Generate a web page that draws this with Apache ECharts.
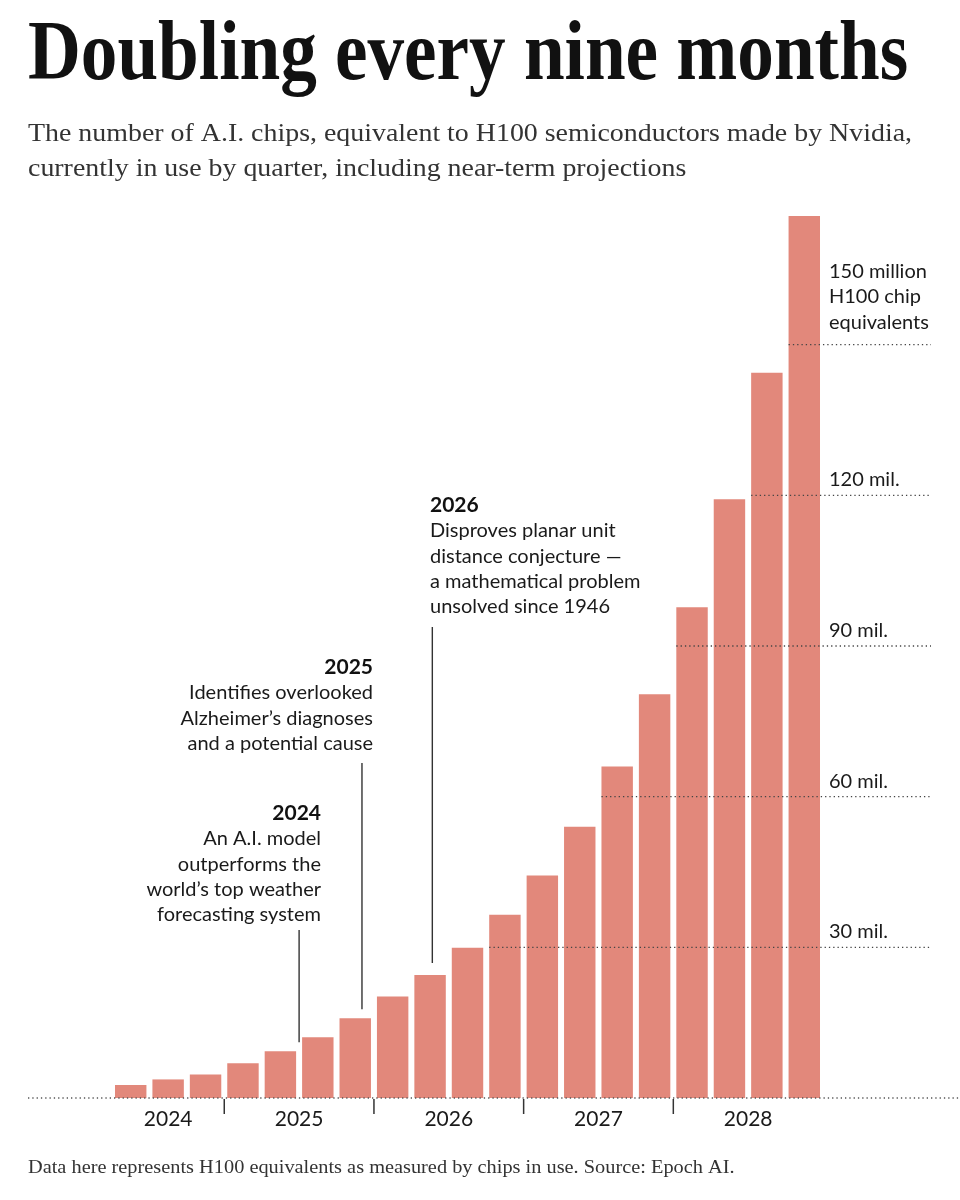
<!DOCTYPE html>
<html>
<head>
<meta charset="utf-8">
<script src="https://cdn.jsdelivr.net/npm/echarts@6/dist/echarts.min.js"></script>
<style>
  html, body { margin: 0; padding: 0; background: #fff; }
  #chart { width: 960px; height: 1200px; }
</style>
</head>
<body>
<div id="chart"></div>
<script>
// quarters shown, H100 equivalents in use (millions)
const quarters = [
  '2024 Q2', '2024 Q3', '2024 Q4',
  '2025 Q1', '2025 Q2', '2025 Q3', '2025 Q4',
  '2026 Q1', '2026 Q2', '2026 Q3', '2026 Q4',
  '2027 Q1', '2027 Q2', '2027 Q3', '2027 Q4',
  '2028 Q1', '2028 Q2', '2028 Q3', '2028 Q4',
]
const chips = [2.6, 3.7, 4.7, 6.9, 9.3, 12.1, 15.9, 20.2, 24.5, 29.9, 36.5, 44.3, 54.0, 66.0, 80.4, 97.7, 119.2, 144.4, 175.6]

const years = ['2024', '2025', '2026', '2027', '2028']
const gridValues = [30, 60, 90, 120, 150]
const gridLabels = ['30 mil.', '60 mil.', '90 mil.', '120 mil.', '150 million\nH100 chip\nequivalents']

const annoBar = [4, 6, 8]
const annoYear = ['2024', '2025', '2026']
const annoText = [
  'An A.I. model\noutperforms the\nworld\u2019s top weather\nforecasting system',
  'Identifies overlooked\nAlzheimer\u2019s diagnoses\nand a potential cause',
  'Disproves planar unit\ndistance conjecture \u2014\na mathematical problem\nunsolved since 1946',
]

// layout only
const SANS = 'Lato, "Open Sans", sans-serif'
const SERIF = '"Liberation Serif", serif'
const BAR_COLOR = '#e2887b'
const annoLayout = [
  { shift: 0.5, textX: 321, align: 'right', yearY: 813, lineTop: 930, gap: 9 },
  { shift: 0.18, textX: 373, align: 'right', yearY: 667, lineTop: 763, gap: 9 },
  { shift: 0.06, textX: 430, align: 'left', yearY: 505, lineTop: 627, gap: 12 },
]
const labelRise = [15.5, 15.5, 15.5, 15.5, 22.6]

const myChart = echarts.init(document.getElementById('chart'), null, { renderer: 'canvas' })

// first bar reaching each grid value -> where the dotted line starts
const gridStart = gridValues.map((v) => chips.findIndex((c) => c >= v))
// first / last quarter of each year
const yearSpan = years.map((y) => {
  const idx = quarters.map((q, i) => (q.startsWith(y) ? i : -1)).filter((i) => i >= 0)
  return [idx[0], idx[idx.length - 1]]
})

const option = {
  backgroundColor: '#fff',
  animation: false,
  grid: {
    left: 112,
    right: 137,
    top: 194,
    bottom: 102,
  },
  xAxis: {
    type: 'category',
    data: quarters,
    axisLine: { show: false },
    axisLabel: { show: false },
    axisTick: { show: false },
    splitLine: { show: false },
  },
  yAxis: {
    type: 'value',
    min: 0,
    max: 180,
    interval: 30,
    show: false,
  },
  graphic: [
    {
      type: 'text',
      x: 28,
      y: 57,
      scaleX: 0.871,
      style: {
        text: 'Doubling every nine months',
        font: 'bold 84px ' + SERIF,
        fill: '#111',
        verticalAlign: 'middle',
      },
    },
    {
      type: 'text',
      x: 28,
      y: 117,
      scaleX: 1.073,
      style: {
        text: 'The number of A.I. chips, equivalent to H100 semiconductors made by Nvidia,\ncurrently in use by quarter, including near-term projections',
        font: '26px ' + SERIF,
        lineHeight: 35,
        fill: '#333',
        verticalAlign: 'top',
      },
    },
    {
      type: 'text',
      x: 28,
      y: 1168,
      scaleX: 1.13,
      style: {
        text: 'Data here represents H100 equivalents as measured by chips in use. Source: Epoch AI.',
        font: '18px ' + SERIF,
        fill: '#333',
        verticalAlign: 'middle',
      },
    },
  ],
  series: [
    {
      type: 'bar',
      data: chips,
      barCategoryGap: '16%',
      itemStyle: { color: BAR_COLOR },
      z: 2,
    },
    {
      // dotted baseline across the page
      type: 'custom',
      coordinateSystem: 'cartesian2d',
      clip: false,
      z: 3,
      data: [[0, 0]],
      renderItem: (params, api) => {
        const p = api.coord([0, 0])
        return {
          type: 'line',
          shape: { x1: 28, y1: p[1], x2: api.getWidth(), y2: p[1] },
          style: { stroke: '#555', lineWidth: 1.3, lineDash: [1.3, 3] },
        }
      },
    },
    {
      // partial dotted gridlines with labels on the right
      type: 'custom',
      coordinateSystem: 'cartesian2d',
      clip: false,
      z: 3,
      data: gridValues.map((v, i) => [gridStart[i], v, i]),
      renderItem: (params, api) => {
        const i = api.value(2)
        const p = api.coord([api.value(0), api.value(1)])
        const band = api.size([1, 0])[0]
        const right = params.coordSys.x + params.coordSys.width
        return {
          type: 'group',
          children: [
            {
              type: 'line',
              shape: { x1: p[0] - band * 0.42, y1: p[1], x2: right + 108, y2: p[1] },
              style: { stroke: '#444', lineWidth: 1.3, lineDash: [1.3, 3] },
            },
            {
              type: 'text',
              x: right + 6,
              y: p[1] - labelRise[i] + 12.75,
              style: {
                text: gridLabels[i],
                font: '20px ' + SANS,
                lineHeight: 25.5,
                fill: '#1a1a1a',
                align: 'left',
                verticalAlign: 'bottom',
              },
            },
          ],
        }
      },
    },
    {
      // year labels under each group of quarters, ticks between years
      type: 'custom',
      coordinateSystem: 'cartesian2d',
      clip: false,
      z: 3,
      data: yearSpan.map((s, i) => [s[0], s[1], i]),
      renderItem: (params, api) => {
        const a = api.coord([api.value(0), 0])
        const b = api.coord([api.value(1), 0])
        const band = api.size([1, 0])[0]
        const children = [
          {
            type: 'text',
            x: (a[0] + b[0]) / 2,
            y: a[1] + 21,
            style: {
              text: years[api.value(2)],
              font: '21px ' + SANS,
              fill: '#1a1a1a',
              align: 'center',
              verticalAlign: 'middle',
            },
          },
        ]
        if (api.value(2) > 0) {
          const tx = a[0] - band / 2
          children.push({
            type: 'line',
            shape: { x1: tx, y1: a[1] + 1, x2: tx, y2: a[1] + 16 },
            style: { stroke: '#333', lineWidth: 1.5 },
          })
        }
        return { type: 'group', children }
      },
    },
    {
      // milestone annotations with leader lines to the bars
      type: 'custom',
      coordinateSystem: 'cartesian2d',
      clip: false,
      z: 4,
      data: annoBar.map((b, i) => [b, chips[b], i]),
      renderItem: (params, api) => {
        const i = api.value(2)
        const lay = annoLayout[i]
        const p = api.coord([api.value(0), api.value(1)])
        const band = api.size([1, 0])[0]
        const x = p[0] + lay.shift * band
        return {
          type: 'group',
          children: [
            {
              type: 'line',
              shape: { x1: x, y1: lay.lineTop, x2: x, y2: p[1] - lay.gap },
              style: { stroke: '#333', lineWidth: 1.4 },
            },
            {
              type: 'text',
              x: lay.textX,
              y: lay.yearY,
              style: {
                text: annoYear[i],
                font: 'bold 21px ' + SANS,
                fill: '#111',
                align: lay.align,
                verticalAlign: 'middle',
              },
            },
            {
              type: 'text',
              x: lay.textX,
              y: lay.yearY + 26 - 12.65,
              style: {
                text: annoText[i],
                font: '20px ' + SANS,
                lineHeight: 25.3,
                fill: '#1a1a1a',
                align: lay.align,
                verticalAlign: 'top',
              },
            },
          ],
        }
      },
    },
  ],
}

option && myChart.setOption(option)
window.addEventListener('resize', function () {
  myChart.resize()
})
</script>
</body>
</html>
